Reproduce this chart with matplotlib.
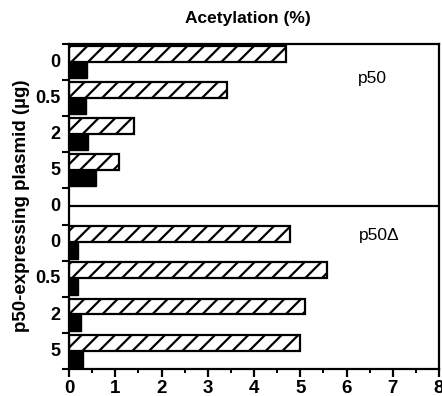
import matplotlib
matplotlib.use("Agg")
import matplotlib.pyplot as plt
import numpy as np

plt.rcParams['font.family'] = ['Liberation Sans', 'DejaVu Sans']
plt.rcParams['hatch.linewidth'] = 1.6

y_labels = ['0', '0.5', '2', '5', '0', '0', '0.5', '2', '5']
p50_hatched = [4.70, 3.41, 1.40, 1.09]
p50_black = [0.38, 0.37, 0.40, 0.58]
p50d_hatched = [4.78, 5.58, 5.10, 5.00]
p50d_black = [0.19, 0.19, 0.27, 0.30]
x_ticks = [0, 1, 2, 3, 4, 5, 6, 7, 8]

fig = plt.figure(figsize=(4.42, 3.96), dpi=100)
ax = fig.add_axes([69/442, 1-369/396, (439-69)/442, (369-44)/396])

top_idx = np.arange(4)
bot_idx = np.arange(5, 9)

for idx, hv, bv in [(top_idx, p50_hatched, p50_black), (bot_idx, p50d_hatched, p50d_black)]:
    ax.barh(idx + 0.27, hv, height=0.44, color='white', edgecolor='black',
            hatch='//', linewidth=1.6)
    ax.barh(idx + 0.72, bv, height=0.44, color='black', edgecolor='black', linewidth=1)

ax.axhline(4.5, color='black', linewidth=1.6)

ax.set_xlim(0, 8)
ax.set_ylim(9, 0)
ax.set_xticks(x_ticks)
ax.set_xticks(np.arange(0.5, 8, 1), minor=True)
ax.set_xticklabels([str(t) for t in x_ticks], fontsize=13.5, fontweight='bold')
ax.set_yticks(np.arange(9) + 0.45)
ax.set_yticklabels(y_labels, fontsize=13, fontweight='bold')
ax.set_yticks(np.arange(10), minor=True)
ax.tick_params(axis='y', which='major', length=0, pad=6)
ax.tick_params(axis='y', which='minor', length=5, width=1.5, direction='out')
ax.tick_params(axis='x', which='major', length=6, width=1.6, direction='out', pad=2)
ax.tick_params(axis='x', which='minor', length=3, width=1.4, direction='out')

for s in ax.spines.values():
    s.set_linewidth(1.6)

ax.text(6.55, 0.95, 'p50', fontsize=12.5, ha='center', va='center')
ax.text(6.7, 5.3, 'p50Δ', fontsize=12.5, ha='center', va='center')

fig.text(248/442, 1-18/396, 'Acetylation (%)', fontsize=12.5, fontweight='bold',
         ha='center', va='center')
fig.text(22/442, 1-206/396, 'p50-expressing plasmid (µg)', fontsize=13.5,
         fontweight='bold', rotation=90, ha='center', va='center')

fig.savefig('out.png', dpi=100)
